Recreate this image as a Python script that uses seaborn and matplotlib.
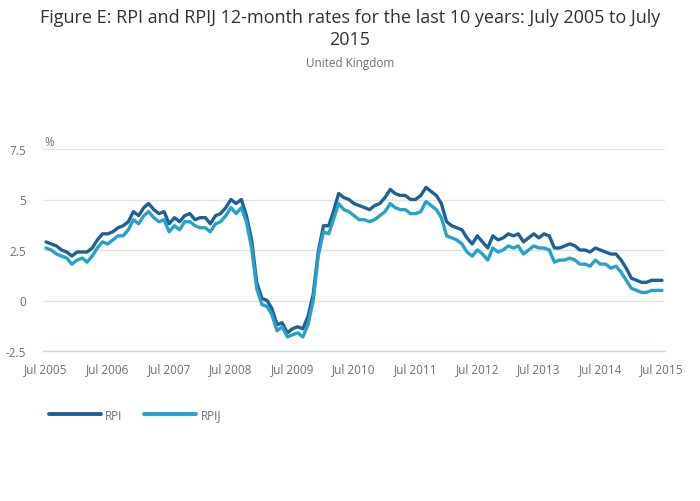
import pandas as pd
import matplotlib.pyplot as plt
import matplotlib.dates as mdates
import seaborn as sns

sns.set_style("white")
plt.rcParams['font.family'] = ['Open Sans', 'DejaVu Sans']

# 12-month rates, Jul 2005 .. Jul 2015 (monthly)
months = pd.date_range('2005-07-01', '2015-07-01', freq='MS')

rpi = [2.9, 2.8, 2.7, 2.5, 2.4, 2.2,
       2.4, 2.4, 2.4, 2.6, 3.0, 3.3, 3.3, 3.4, 3.6, 3.7, 3.9, 4.4,
       4.2, 4.6, 4.8, 4.5, 4.3, 4.4, 3.8, 4.1, 3.9, 4.2, 4.3, 4.0,
       4.1, 4.1, 3.8, 4.2, 4.3, 4.6, 5.0, 4.8, 5.0, 4.2, 3.0, 0.9,
       0.1, 0.0, -0.4, -1.2, -1.1, -1.6, -1.4, -1.3, -1.4, -0.8, 0.3, 2.4,
       3.7, 3.7, 4.4, 5.3, 5.1, 5.0, 4.8, 4.7, 4.6, 4.5, 4.7, 4.8,
       5.1, 5.5, 5.3, 5.2, 5.2, 5.0, 5.0, 5.2, 5.6, 5.4, 5.2, 4.8,
       3.9, 3.7, 3.6, 3.5, 3.1, 2.8, 3.2, 2.9, 2.6, 3.2, 3.0, 3.1,
       3.3, 3.2, 3.3, 2.9, 3.1, 3.3, 3.1, 3.3, 3.2, 2.6, 2.6, 2.7,
       2.8, 2.7, 2.5, 2.5, 2.4, 2.6, 2.5, 2.4, 2.3, 2.3, 2.0, 1.6,
       1.1, 1.0, 0.9, 0.9, 1.0, 1.0, 1.0]

rpij = [2.6, 2.5, 2.3, 2.2, 2.1, 1.8,
        2.0, 2.1, 1.9, 2.2, 2.6, 2.9, 2.8, 3.0, 3.2, 3.2, 3.5, 4.0,
        3.8, 4.2, 4.4, 4.1, 3.9, 4.0, 3.4, 3.7, 3.5, 3.9, 3.9, 3.7,
        3.6, 3.6, 3.4, 3.8, 3.9, 4.2, 4.6, 4.3, 4.6, 3.9, 2.6, 0.6,
        -0.2, -0.3, -0.7, -1.5, -1.3, -1.8, -1.7, -1.6, -1.8, -1.2, 0.0, 2.2,
        3.4, 3.3, 4.0, 4.8, 4.5, 4.4, 4.2, 4.0, 4.0, 3.9, 4.0, 4.2,
        4.4, 4.8, 4.6, 4.5, 4.5, 4.3, 4.3, 4.4, 4.9, 4.7, 4.5, 4.1,
        3.2, 3.1, 3.0, 2.8, 2.4, 2.2, 2.5, 2.3, 2.0, 2.6, 2.4, 2.5,
        2.7, 2.6, 2.7, 2.3, 2.5, 2.7, 2.6, 2.6, 2.5, 1.9, 2.0, 2.0,
        2.1, 2.0, 1.8, 1.8, 1.7, 2.0, 1.8, 1.8, 1.6, 1.7, 1.4, 1.0,
        0.6, 0.5, 0.4, 0.4, 0.5, 0.5, 0.5]

yticks = [-2.5, 0, 2.5, 5, 7.5]
ytick_labels = ['-2.5', '0', '2.5', '5', '7.5']

df = pd.DataFrame({'date': list(months) * 2,
                   'rate': rpi + rpij,
                   'series': ['RPI'] * len(rpi) + ['RPIJ'] * len(rpij)})

W, H = 700, 502
fig = plt.figure(figsize=(W / 100, H / 100), dpi=100)
ax = fig.add_axes([43 / W, 150 / H, 622 / W, 202 / H])

sns.lineplot(data=df, x='date', y='rate', hue='series',
             palette={'RPI': '#206095', 'RPIJ': '#27a0cc'},
             linewidth=2.4, ax=ax, legend=False)

pad = pd.Timedelta(days=18)
ax.set_xlim(months[0] - pad, months[-1] + pad)
ax.set_ylim(-2.5, 7.5)
ax.set_yticks(yticks)
ax.set_yticklabels(ytick_labels)
ax.xaxis.set_major_locator(mdates.MonthLocator(bymonth=7))
ax.xaxis.set_major_formatter(mdates.DateFormatter('Jul %Y'))

ax.grid(axis='y', color='#e2e2e3', linewidth=1)
ax.set_axisbelow(True)
for s in ['top', 'right', 'left']:
    ax.spines[s].set_visible(False)
ax.spines['bottom'].set_color('#c8d6ea')
ax.spines['bottom'].set_linewidth(1)
ax.tick_params(axis='x', colors='#c8d6ea', length=6, width=1, labelcolor='#707071',
               labelsize=8.5, pad=2)
ax.tick_params(axis='y', length=0, labelcolor='#707071', labelsize=8.5, pad=12)
ax.set_xlabel('')
ax.set_ylabel('')

fig.text(44 / W, 1 - 143 / H, '%', fontsize=8.5, color='#707071', va='center', ha='left')

fig.text(0.5, 1 - 18 / H, 'Figure E: RPI and RPIJ 12-month rates for the last 10 years: July 2005 to July',
         ha='center', va='center', fontsize=13, color='#323132')
fig.text(0.5, 1 - 40 / H, '2015', ha='center', va='center', fontsize=13, color='#323132')
fig.text(0.5, 1 - 64 / H, 'United Kingdom', ha='center', va='center', fontsize=8.5, color='#707071')

handles = [plt.Line2D([], [], color='#206095', linewidth=2.8),
           plt.Line2D([], [], color='#27a0cc', linewidth=2.8)]
leg = fig.legend(handles, ['RPI', 'RPIJ'], loc='center left',
                 bbox_to_anchor=(38 / W, 1 - 416 / H), ncol=2, frameon=False,
                 handlelength=4.4, handletextpad=0.4, columnspacing=1.8,
                 fontsize=8.5)
for t in leg.get_texts():
    t.set_color('#707071')

fig.savefig('out.png', dpi=100)
